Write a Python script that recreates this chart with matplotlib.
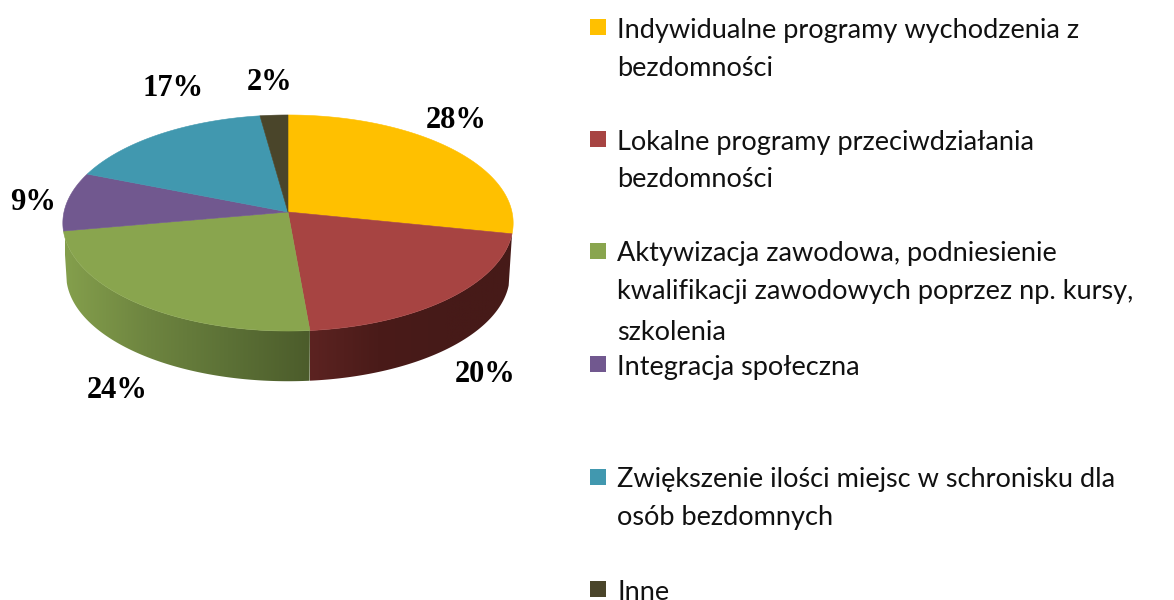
import numpy as np
import matplotlib
matplotlib.use("Agg")
import matplotlib.pyplot as plt
from matplotlib.colors import LinearSegmentedColormap
from matplotlib.patches import Polygon, Rectangle

# ---- data ----
categories = [
    ["Indywidualne programy wychodzenia z", "bezdomności"],
    ["Lokalne programy przeciwdziałania", "bezdomności"],
    ["Aktywizacja zawodowa, podniesienie", "kwalifikacji zawodowych poprzez np. kursy,", "szkolenia"],
    ["Integracja społeczna"],
    ["Zwiększenie ilości miejsc w schronisku dla", "osób bezdomnych"],
    ["Inne"],
]
values = [28.2, 20.4, 23.6, 8.8, 16.8, 2.2]
colors = ["#FFC000", "#A74442", "#89A54E", "#71588F", "#4198AF", "#4A452A"]

# ---- layout / style ----
W, H = 1174, 600
apex = (288, 212)
a, b, p = 224.0, 106.9, 0.1018
wall_scale, wall_off = 0.985, 52
label_xy = [(456, 121), (485, 374), (117, 390), (33, 203), (173, 88), (270, 83)]
legend_y = [27, 139, 251, 364, 477, 589]
line_baselines = [[38, 76], [150, 187], [261, 299, 340], [375], [487, 525], [600]]
wall_grads = {
    1: (["#5C2321", "#4A1B19", "#461A18", "#461A18"], 310, 513),
    2: (["#849F4C", "#6E8540", "#5C7136", "#4C5C2B"], 65, 310),
}

fig = plt.figure(figsize=(W / 100, H / 100), dpi=100)
ax = fig.add_axes([0, 0, 1, 1])


def project(theta_deg, scale=1.0, off=0.0, r=1.0):
    th = np.radians(theta_deg)
    X, Y = r * np.sin(th), r * np.cos(th)
    d = 1 + p * Y
    return apex[0] + scale * a * X / d, apex[1] - scale * b * Y / d + off


edges = np.concatenate([[0], np.cumsum(values)]) / np.sum(values) * 360

# side walls
for i in range(len(values)):
    lo, hi = max(edges[i], 90), min(edges[i + 1], 270)
    if hi <= lo or i not in wall_grads:
        continue
    t = np.linspace(lo, hi, 120)
    tx, ty = project(t)
    bx, by = project(t, wall_scale, wall_off)
    poly = Polygon(np.r_[np.c_[tx, ty], np.c_[bx, by][::-1]], closed=True,
                   fc="none", ec="none", transform=ax.transData)
    ax.add_patch(poly)
    stops, x0, x1 = wall_grads[i]
    cmap = LinearSegmentedColormap.from_list(f"w{i}", stops)
    im = ax.imshow(np.linspace(0, 1, 256)[None, :], cmap=cmap, aspect="auto",
                   extent=(x0, x1, 400, 200), zorder=2, interpolation="bilinear")
    im.set_clip_path(poly)

# top face
for i, col in enumerate(colors):
    t = np.linspace(edges[i], edges[i + 1], 160)
    x, y = project(t)
    ax.add_patch(Polygon(np.r_[[apex], np.c_[x, y]], closed=True, fc=col, ec=col,
                         lw=0.4, zorder=3))

# data labels
for v, (lx, ly) in zip(values, label_xy):
    ax.text(lx, ly, f"{round(v)}%", family="Liberation Serif", weight="bold",
            fontsize=22, ha="center", va="center", color="black", zorder=5)

# legend
for col, cy, lines, bases in zip(colors, legend_y, categories, line_baselines):
    ax.add_patch(Rectangle((590, cy - 8), 16, 16, fc=col, ec="none", zorder=4))
    for s, by in zip(lines, bases):
        ax.text(617, by, s, family="Lato", fontsize=19.5, ha="left", va="baseline",
                color="#111111", zorder=5, clip_on=True)

ax.set_xlim(0, W)
ax.set_ylim(H, 0)
ax.axis("off")
fig.savefig("out.png", dpi=100, facecolor="white")
